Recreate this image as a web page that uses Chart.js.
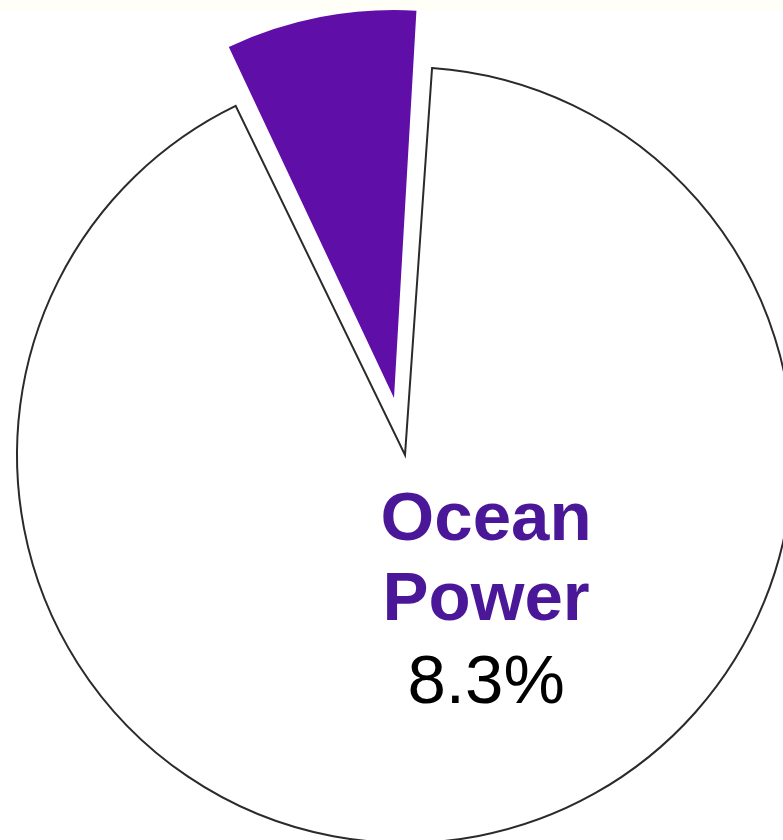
<!DOCTYPE html>
<html>
<head>
<meta charset="utf-8">
<script src="https://cdn.jsdelivr.net/npm/chart.js@4/dist/chart.umd.min.js"></script>
<style>
  html, body { margin: 0; padding: 0; width: 783px; height: 840px; overflow: hidden; background: #fffff8; }
  #wrap { position: absolute; left: 0; top: 10px; width: 810px; height: 890px; background: #ffffff; }
</style>
</head>
<body>
<div id="wrap"><canvas id="c"></canvas></div>
<script>
// ---- data ----
const categories = ['Other', 'Ocean Power'];
const values = [91.7, 8.3];
const labelLines = [[], ['Ocean', 'Power']];
const sliceColors = ['#ffffff', '#600ea8'];
const borderColors = ['#2a2a2a', '#ffffff'];
const borderWidths = [2, 0];
const offsets = [0, 232];
const highlightIndex = 1;

const PIE_RADIUS = 388;

// keep the exploded slice the same radius as the rest of the pie
const keepRadius = {
  id: 'keepRadius',
  afterUpdate(chart) {
    const meta = chart.getDatasetMeta(0);
    meta.data.forEach((el, i) => {
      const off = (offsets[i] || 0) / 4;
      const circ = el.endAngle - el.startAngle;
      const fix = 1 - Math.sin(Math.min(Math.PI, circ));
      el.outerRadius = PIE_RADIUS - off * fix;
    });
  }
};

const sliceLabel = {
  id: 'sliceLabel',
  afterDatasetsDraw(chart) {
    const ctx = chart.ctx;
    const el = chart.getDatasetMeta(0).data[highlightIndex];
    const cx = el.x, cy = el.y;
    const r = PIE_RADIUS;
    const tx = cx + r * 0.209;
    const total = values.reduce((a, b) => a + b, 0);
    const pct = (values[highlightIndex] / total * 100).toFixed(1) + '%';
    ctx.save();
    ctx.textAlign = 'center';
    ctx.textBaseline = 'alphabetic';
    ctx.fillStyle = '#4a1799';
    ctx.font = 'bold 69px "Liberation Sans", Arial, sans-serif';
    const lines = labelLines[highlightIndex];
    ctx.fillText(lines[0], tx, cy + 85);
    ctx.fillText(lines[1], tx, cy + 165);
    ctx.fillStyle = '#000000';
    ctx.font = '69px "Liberation Sans", Arial, sans-serif';
    ctx.fillText(pct, tx, cy + 248);
    ctx.restore();
  }
};

new Chart(document.getElementById('c'), {
  type: 'pie',
  data: {
    labels: categories,
    datasets: [{
      data: values,
      backgroundColor: sliceColors,
      borderColor: borderColors,
      borderWidth: borderWidths,
      offset: offsets,
      borderJoinStyle: 'miter',
      hoverOffset: 0
    }]
  },
  options: {
    responsive: true,
    maintainAspectRatio: false,
    animation: false,
    rotation: 4,
    radius: PIE_RADIUS,
    layout: { padding: 0 },
    plugins: {
      legend: { display: false },
      tooltip: { enabled: false },
      title: { display: false }
    },
    events: []
  },
  plugins: [keepRadius, sliceLabel]
});
</script>
</body>
</html>
